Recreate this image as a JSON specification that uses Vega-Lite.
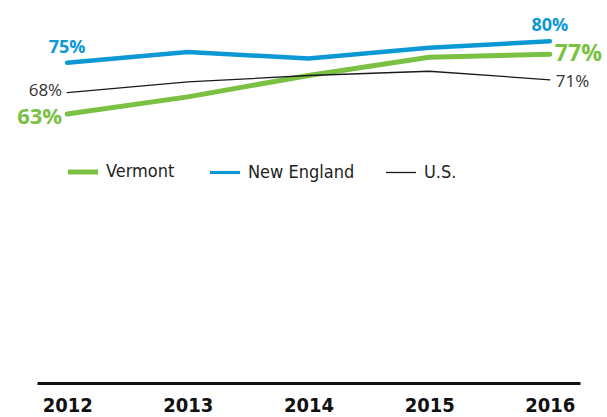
{
  "$schema": "https://vega.github.io/schema/vega-lite/v6.json",
  "width": 543,
  "height": 363,
  "autosize": {"type": "none"},
  "padding": {"left": 37, "top": 20, "right": 27, "bottom": 34},
  "background": "white",
  "config": {"view": {"stroke": null}},
  "data": {
    "values": [
      {"year": "2012", "series": "Vermont", "value": 0.63},
      {"year": "2013", "series": "Vermont", "value": 0.67},
      {"year": "2014", "series": "Vermont", "value": 0.72},
      {"year": "2015", "series": "Vermont", "value": 0.763},
      {"year": "2016", "series": "Vermont", "value": 0.77},
      {"year": "2012", "series": "New England", "value": 0.75},
      {"year": "2013", "series": "New England", "value": 0.775},
      {"year": "2014", "series": "New England", "value": 0.76},
      {"year": "2015", "series": "New England", "value": 0.785},
      {"year": "2016", "series": "New England", "value": 0.80},
      {"year": "2012", "series": "U.S.", "value": 0.68},
      {"year": "2013", "series": "U.S.", "value": 0.705},
      {"year": "2014", "series": "U.S.", "value": 0.72},
      {"year": "2015", "series": "U.S.", "value": 0.73},
      {"year": "2016", "series": "U.S.", "value": 0.71}
    ]
  },
  "encoding": {
    "x": {
      "field": "year", "type": "ordinal",
      "scale": {"type": "point", "padding": 0.25},
      "axis": {
        "title": null, "labelAngle": 0, "ticks": false,
        "domainColor": "#111", "domainWidth": 3,
        "labelFont": "DejaVu Sans Condensed, DejaVu Sans, sans-serif", "labelFontWeight": "bold",
        "labelFontSize": 20, "labelColor": "#111", "labelPadding": 12,
        "grid": false
      }
    },
    "y": {
      "field": "value", "type": "quantitative",
      "scale": {"domain": [0, 0.85]},
      "axis": null
    }
  },
  "layer": [
    {
      "mark": {"type": "line", "strokeCap": "round", "strokeJoin": "round"},
      "encoding": {
        "color": {
          "field": "series", "type": "nominal",
          "scale": {"domain": ["Vermont", "New England", "U.S."], "range": ["#7ac143", "#0c97d5", "#1a1a1a"]},
          "legend": {
            "title": null, "orient": "none", "direction": "horizontal",
            "legendX": 37, "legendY": 143,
            "symbolType": "stroke", "symbolSize": 900,
            "labelFont": "DejaVu Sans Condensed, DejaVu Sans, sans-serif", "labelFontSize": 18, "labelColor": "#222",
            "labelOffset": 14, "columnPadding": 28,
            "encode": {
              "symbols": {
                "update": {
                  "strokeWidth": {"signal": "datum.value === 'Vermont' ? 5 : datum.value === 'New England' ? 3.2 : 1.3"}
                }
              }
            }
          }
        },
        "strokeWidth": {
          "condition": [
            {"test": "datum.series === 'U.S.'", "value": 1.3},
            {"test": "datum.series === 'New England'", "value": 4.5}
          ],
          "value": 5
        }
      }
    },
    {
      "transform": [{"filter": "datum.series === 'New England' && (datum.year === '2012' || datum.year === '2016')"}],
      "mark": {"type": "text", "font": "Open Sans", "fontWeight": "bold", "fontSize": 18, "color": "#0c97d5", "dy": -15, "baseline": "middle"},
      "encoding": {"text": {"field": "value", "type": "quantitative", "format": ".0%"}}
    },
    {
      "transform": [{"filter": "datum.series === 'Vermont' && datum.year === '2012'"}],
      "mark": {"type": "text", "font": "Open Sans", "fontWeight": "bold", "fontSize": 22, "color": "#7ac143", "align": "right", "dx": -5, "baseline": "middle", "dy": 3},
      "encoding": {"text": {"field": "value", "type": "quantitative", "format": ".0%"}}
    },
    {
      "transform": [{"filter": "datum.series === 'Vermont' && datum.year === '2016'"}],
      "mark": {"type": "text", "font": "Open Sans", "fontWeight": "bold", "fontSize": 23, "color": "#7ac143", "align": "left", "dx": 5, "baseline": "middle"},
      "encoding": {"text": {"field": "value", "type": "quantitative", "format": ".0%"}}
    },
    {
      "transform": [{"filter": "datum.series === 'U.S.' && datum.year === '2012'"}],
      "mark": {"type": "text", "font": "Open Sans", "fontSize": 17, "color": "#333", "align": "right", "dx": -5, "baseline": "middle", "dy": -2},
      "encoding": {"text": {"field": "value", "type": "quantitative", "format": ".0%"}}
    },
    {
      "transform": [{"filter": "datum.series === 'U.S.' && datum.year === '2016'"}],
      "mark": {"type": "text", "font": "Open Sans", "fontSize": 17, "color": "#333", "align": "left", "dx": 6, "baseline": "middle", "dy": 2},
      "encoding": {"text": {"field": "value", "type": "quantitative", "format": ".0%"}}
    }
  ]
}
